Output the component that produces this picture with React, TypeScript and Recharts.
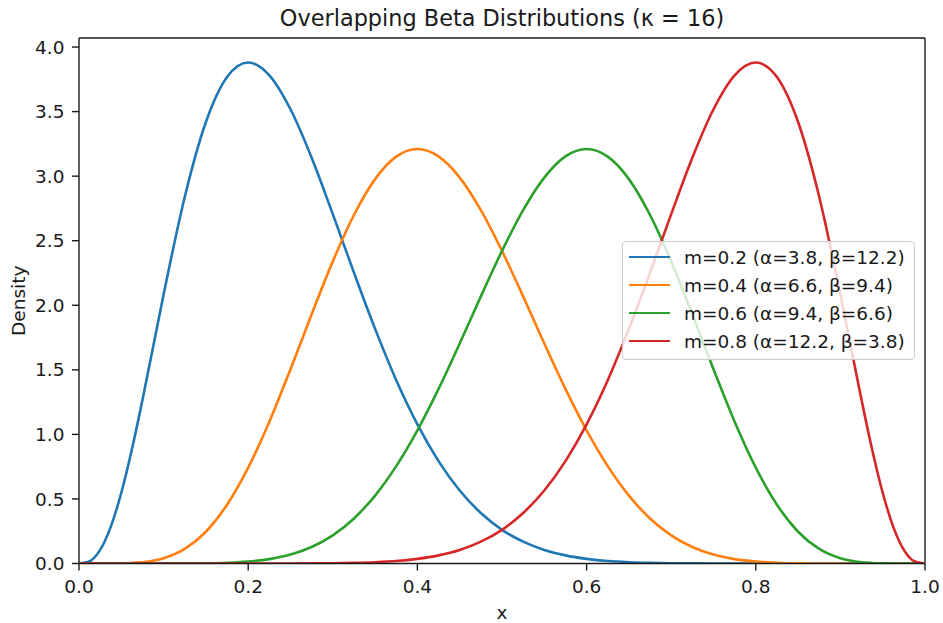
import React from "react";
import { LineChart, Line, XAxis, YAxis, Legend, ReferenceLine } from "recharts";

// x grid the densities were read on (finer near the edges where curves bend sharply)
const X_VALUES = [
  0, 0.0125, 0.025, 0.0375, 0.05, 0.0625, 0.075,
  0.1, 0.125, 0.15, 0.175, 0.2, 0.225, 0.25, 0.275, 0.3, 0.325, 0.35, 0.375, 0.4, 0.425, 0.45,
  0.475, 0.5, 0.525, 0.55, 0.575, 0.6, 0.625, 0.65, 0.675, 0.7, 0.725, 0.75, 0.775, 0.8, 0.825,
  0.85, 0.875, 0.9,
  0.925, 0.9375, 0.95, 0.9625, 0.975, 0.9875, 1,
];

const M02 = [
  0, 0.017, 0.105, 0.284, 0.548, 0.883, 1.266,
  2.084, 2.839, 3.419, 3.768, 3.88, 3.781, 3.518, 3.143, 2.706, 2.253, 1.817, 1.42, 1.078, 0.793, 0.565,
  0.391, 0.261, 0.169, 0.105, 0.063, 0.036, 0.019, 0.01, 0.005, 0.002, 0.001, 0.0004, 0, 0, 0,
  0, 0, 0,
  0, 0, 0, 0, 0, 0, 0,
];
const M04 = [
  0, 0, 0.00003, 0.0003, 0.0013, 0.0042, 0.01,
  0.041, 0.113, 0.246, 0.455, 0.742, 1.098, 1.505, 1.93, 2.34, 2.699, 2.977, 3.151, 3.21, 3.153, 2.989,
  2.737, 2.421, 2.069, 1.704, 1.352, 1.031, 0.754, 0.526, 0.349, 0.218, 0.128, 0.069, 0.034, 0.015, 0.006,
  0.002, 0.0005, 0.0001,
  0, 0, 0, 0, 0, 0, 0,
];
const M06 = [
  0, 0, 0, 0, 0, 0, 0,
  0.0001, 0.0005, 0.002, 0.006, 0.015, 0.034, 0.069, 0.128, 0.218, 0.349, 0.526, 0.754, 1.031, 1.352, 1.704,
  2.069, 2.421, 2.737, 2.989, 3.153, 3.21, 3.151, 2.977, 2.699, 2.34, 1.93, 1.505, 1.098, 0.742, 0.455,
  0.246, 0.113, 0.041,
  0.01, 0.0042, 0.0013, 0.0003, 0.00003, 0, 0,
];
const M08 = [
  0, 0, 0, 0, 0, 0, 0,
  0, 0, 0, 0, 0, 0, 0.0004, 0.001, 0.002, 0.005, 0.01, 0.019, 0.036, 0.063, 0.105,
  0.169, 0.261, 0.391, 0.565, 0.793, 1.078, 1.42, 1.817, 2.253, 2.706, 3.143, 3.518, 3.781, 3.88, 3.768,
  3.419, 2.839, 2.084,
  1.266, 0.883, 0.548, 0.284, 0.105, 0.017, 0,
];

const SERIES = [
  { key: "m02", name: "m=0.2 (α=3.8, β=12.2)", color: "#1f77b4", values: M02 },
  { key: "m04", name: "m=0.4 (α=6.6, β=9.4)", color: "#ff7f0e", values: M04 },
  { key: "m06", name: "m=0.6 (α=9.4, β=6.6)", color: "#2ca02c", values: M06 },
  { key: "m08", name: "m=0.8 (α=12.2, β=3.8)", color: "#d62728", values: M08 },
];

const X_TICKS = [0, 0.2, 0.4, 0.6, 0.8, 1];
const Y_TICKS = [0, 0.5, 1, 1.5, 2, 2.5, 3, 3.5, 4];
const Y_MAX = 4.07;

const FONT = "'DejaVu Sans', sans-serif";
const INK = "#1a1a1a";

const data = X_VALUES.map((x, i) => {
  const row: Record<string, number> = { x };
  SERIES.forEach((s) => (row[s.key] = s.values[i]));
  return row;
});

function LegendBox() {
  return (
    <div
      style={{
        boxSizing: "border-box",
        width: 293,
        height: 119,
        padding: "1px 7px 4px 6px",
        background: "rgba(255,255,255,0.8)",
        border: "1px solid #cccccc",
        borderRadius: 4,
        fontFamily: FONT,
        fontSize: 18.5,
        color: INK,
      }}
    >
      {SERIES.map((s) => (
        <div key={s.key} style={{ display: "flex", alignItems: "center", height: 28 }}>
          <div style={{ width: 41, height: 2.6, background: s.color, marginRight: 14 }} />
          <span style={{ whiteSpace: "nowrap" }}>{s.name}</span>
        </div>
      ))}
    </div>
  );
}

export default function App() {
  const tick = { fontSize: 18.5, fill: INK, fontFamily: FONT };
  return (
    <div style={{ position: "absolute", left: 0, top: 0, width: 943, height: 623, background: "#fff" }}>
      <div
        style={{
          position: "absolute",
          left: 79,
          width: 846,
          top: 5,
          lineHeight: "26px",
          textAlign: "center",
          fontFamily: FONT,
          fontSize: 22.4,
          color: INK,
        }}
      >
        Overlapping Beta Distributions (κ = 16)
      </div>
      <LineChart
        width={943}
        height={623}
        data={data}
        margin={{ top: 38, right: 18, left: 0, bottom: 0 }}
        style={{ fontFamily: FONT }}
      >
        <XAxis
          dataKey="x"
          type="number"
          domain={[0, 1]}
          ticks={X_TICKS}
          interval={0}
          tickFormatter={(v: number) => v.toFixed(1)}
          tick={tick}
          tickSize={7}
          tickMargin={9}
          height={59.5}
          stroke={INK}
          strokeWidth={1.4}
          label={{ value: "x", position: "insideBottom", offset: 4.5, fill: INK, fontSize: 18.5, fontFamily: FONT }}
        />
        <YAxis
          type="number"
          domain={[0, Y_MAX]}
          allowDataOverflow
          ticks={Y_TICKS}
          interval={0}
          tickFormatter={(v: number) => v.toFixed(1)}
          tick={tick}
          tickSize={7}
          tickMargin={7.5}
          width={79}
          stroke={INK}
          strokeWidth={1.4}
          label={{
            value: "Density",
            angle: -90,
            position: "insideLeft",
            offset: 18,
            fill: INK,
            fontSize: 18.5,
            fontFamily: FONT,
            style: { textAnchor: "middle" },
          }}
        />
        <ReferenceLine y={Y_MAX} stroke={INK} strokeWidth={1.4} />
        <ReferenceLine x={1} stroke={INK} strokeWidth={1.4} />
        {SERIES.map((s) => (
          <Line
            key={s.key}
            dataKey={s.key}
            name={s.name}
            type="monotone"
            stroke={s.color}
            strokeWidth={2.6}
            dot={false}
            activeDot={false}
            isAnimationActive={false}
          />
        ))}
        <Legend
          layout="vertical"
          align="center"
          verticalAlign="middle"
          content={() => <LegendBox />}
          wrapperStyle={{ left: 622, top: 241, width: 293, height: 119 }}
        />
      </LineChart>
    </div>
  );
}
